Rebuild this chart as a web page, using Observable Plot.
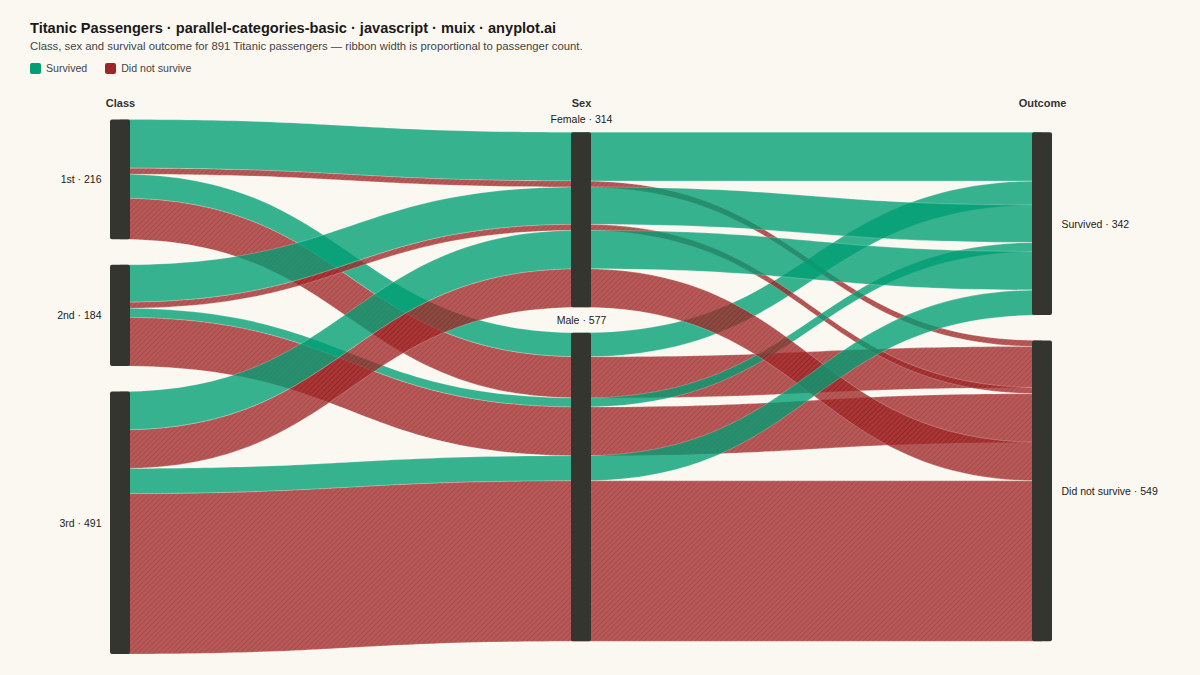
<!DOCTYPE html>
<html>
<head>
<meta charset="utf-8">
<script src="https://cdn.jsdelivr.net/npm/d3@7"></script>
<script src="https://cdn.jsdelivr.net/npm/@observablehq/plot@0.6"></script>
<style>
  html, body { margin: 0; padding: 0; background: #FAF8F1; }
  body { width: 1200px; height: 675px; overflow: hidden; font-family: "Liberation Sans", Arial, sans-serif; }
  #header { position: relative; height: 88px; }
  #title { position: absolute; left: 30px; top: 21px; font-size: 14.6px; line-height: 14.6px; font-weight: bold; color: #1a1a1a; white-space: nowrap; }
  #subtitle { position: absolute; left: 30px; top: 41.2px; font-size: 11.3px; line-height: 11.3px; color: #444; white-space: nowrap; }
  #legend { position: absolute; left: 30px; top: 63px; font-size: 10.6px; line-height: 11px; color: #444; display: flex; align-items: center; white-space: nowrap; }
  .item { display: flex; align-items: center; margin-right: 18px; }
  .item svg { margin-right: 5px; display: block; }
  #chart svg { display: block; }
</style>
</head>
<body>
<div id="header">
  <div id="title">Titanic Passengers · parallel-categories-basic · javascript · muix · anyplot.ai</div>
  <div id="subtitle">Class, sex and survival outcome for 891 Titanic passengers — ribbon width is proportional to passenger count.</div>
  <div id="legend"></div>
</div>
<div id="chart"></div>
<script>
// ---- data ----
const axisNames = ["Class", "Sex", "Outcome"];
const classes = ["1st", "2nd", "3rd"];
const sexes = ["Female", "Male"];
const outcomes = ["Survived", "Did not survive"];
// counts per class (1st, 2nd, 3rd)
const femaleSurvived = [91, 70, 72];
const femaleDied = [3, 6, 72];
const maleSurvived = [45, 17, 47];
const maleDied = [77, 91, 300];

const GREEN = "#009E73";
const RED = "#A82A2A";

// ---- build ribbons ----
const counts = {
  Female: {Survived: femaleSurvived, "Did not survive": femaleDied},
  Male: {Survived: maleSurvived, "Did not survive": maleDied}
};
const MIN_W = 11.2; // minimum drawn ribbon width, in passenger units
const GAP = 47.7;   // gap between nodes, in passenger units
const ribbons = [];
classes.forEach((c, ci) => sexes.forEach(s => outcomes.forEach(o => {
  const n = counts[s][o][ci];
  ribbons.push({c, s, o, n, w: Math.max(n, MIN_W)});
})));
const totalW = d3.sum(ribbons, d => d.w);
const span = totalW + 2 * GAP;
const dims = [
  {key: "c", cats: classes},
  {key: "s", cats: sexes},
  {key: "o", cats: outcomes}
];
const nodes = [];
const nodeMap = [];
dims.forEach((dim, ai) => {
  const n = dim.cats.length;
  let y = (span - (totalW + (n - 1) * GAP)) / 2;
  const m = {};
  dim.cats.forEach(cat => {
    const sel = ribbons.filter(r => r[dim.key] === cat);
    const cnt = d3.sum(sel, r => r.n);
    const h = d3.sum(sel, r => r.w);
    const node = {axis: ai, name: cat, count: cnt, y1: y, y2: y + h, cursor: y, label: `${cat} · ${cnt}`};
    nodes.push(node);
    m[cat] = node;
    y += h + GAP;
  });
  nodeMap.push(m);
});
const rows = [];
ribbons.forEach((r, i) => {
  dims.forEach((dim, ai) => {
    const node = nodeMap[ai][r[dim.key]];
    rows.push({id: i, x: ai, y1: node.cursor, y2: node.cursor + r.w,
      fill: r.o === "Survived" ? GREEN : "url(#hatch)"});
    node.cursor += r.w;
  });
});

// ---- legend ----
const legend = document.getElementById("legend");
[["Survived", GREEN, false], ["Did not survive", RED, true]].forEach(([name, col, hatch], i) => {
  const item = document.createElement("div");
  item.className = "item";
  const pid = "lh" + i;
  item.innerHTML = `<svg width="11" height="11">${hatch ? `<defs><pattern id="${pid}" width="3" height="3" patternUnits="userSpaceOnUse" patternTransform="rotate(45)"><rect width="3" height="3" fill="${col}"></rect><line x1="0" y1="0" x2="0" y2="3" stroke="#6e1a1a" stroke-width="1.2"></line></pattern></defs>` : ""}<rect width="11" height="11" rx="2" fill="${hatch ? `url(#${pid})` : col}"></rect></svg><span>${name}</span>`;
  legend.appendChild(item);
});

// ---- chart ----
const chart = Plot.plot({
  width: 1200,
  height: 587,
  margin: 0,
  style: {background: "transparent", fontFamily: "'Liberation Sans', Arial, sans-serif", fontSize: "10.5px", color: "#222"},
  x: {domain: [0, 2], range: [120, 1042], axis: null},
  y: {domain: [0, span], range: [31.5, 566], axis: null},
  color: {type: "identity"},
  marks: [
    Plot.areaY(rows, {x: "x", y1: "y1", y2: "y2", z: "id", fill: "fill", fillOpacity: 0.78, curve: "bump-x",
      stroke: "#ffffff", strokeOpacity: 0.35, strokeWidth: 0.6}),
    Plot.rect(nodes, {x1: "axis", x2: "axis", y1: "y1", y2: "y2", insetLeft: -10, insetRight: -10, fill: "#353530", rx: 2}),
    Plot.text(nodes.filter(d => d.axis === 0), {x: "axis", y: d => (d.y1 + d.y2) / 2, text: "label", textAnchor: "end", dx: -19, lineAnchor: "middle", fill: "#222", fontSize: 10.5}),
    Plot.text(nodes.filter(d => d.axis === 2), {x: "axis", y: d => (d.y1 + d.y2) / 2, text: "label", textAnchor: "start", dx: 19, lineAnchor: "middle", fill: "#222", fontSize: 10.5}),
    Plot.text(nodes.filter(d => d.axis === 1), {x: "axis", y: "y1", text: "label", lineAnchor: "bottom", dy: -9.5, fill: "#222", fontSize: 10.5}),
    Plot.text(axisNames, {x: (d, i) => i, text: d => d, frameAnchor: "top", lineAnchor: "bottom", dy: 18.7, fontWeight: "bold", fill: "#333", fontSize: 11})
  ]
});
d3.select(chart).insert("defs", ":first-child").html(
  `<pattern id="hatch" width="3.6" height="3.6" patternUnits="userSpaceOnUse" patternTransform="rotate(45)">
     <rect width="3.6" height="3.6" fill="${RED}"></rect>
     <line x1="0" y1="0" x2="0" y2="3.6" stroke="#6e1a1a" stroke-width="1.2"></line>
   </pattern>`);
document.getElementById("chart").appendChild(chart);
</script>
</body>
</html>
